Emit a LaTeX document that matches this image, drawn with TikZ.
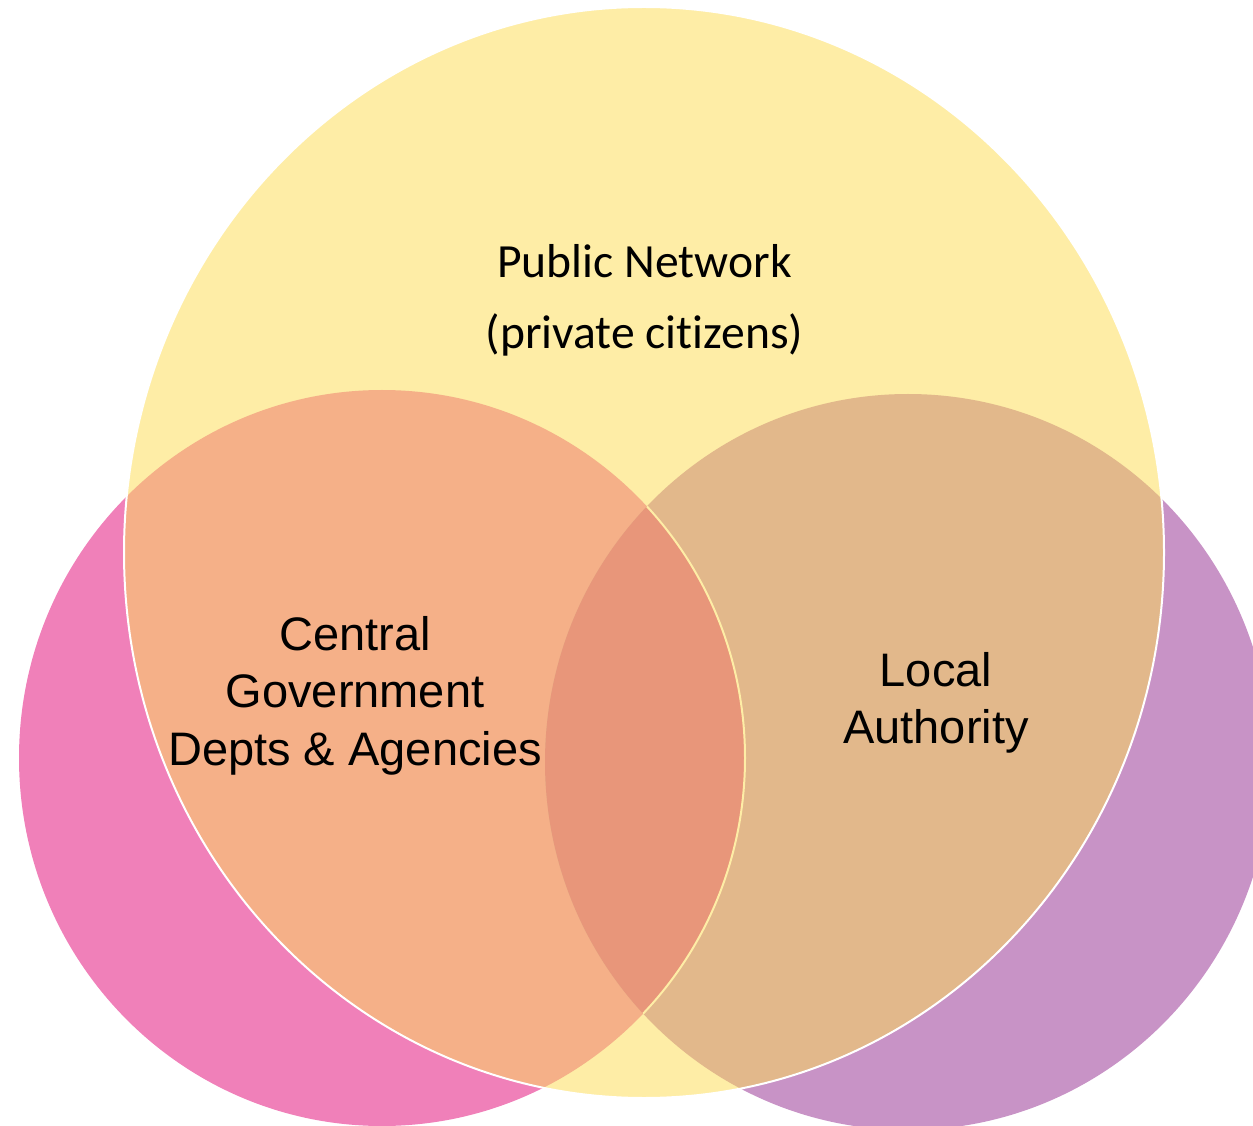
\documentclass[tikz,border=0pt]{standalone}
\usepackage{fontspec}
\setmainfont{Liberation Sans}
\newfontfamily\calibrifont[Ligatures=NoCommon]{Carlito}
\usepackage{tikz}

\definecolor{pinkc}{HTML}{F080B9}
\definecolor{purplec}{HTML}{C893C6}
\definecolor{yellowc}{HTML}{FEEDA6}
\definecolor{orangec}{HTML}{F5B088}
\definecolor{tanc}{HTML}{E2B88B}
\definecolor{darkc}{HTML}{E8967A}

\tikzset{
  label text/.style={inner sep=0pt, anchor=north, align=center, text=black,
    font=\fontsize{35.25}{43.1}\selectfont},
  public text/.style={inner sep=0pt, anchor=north, align=center, text=black,
    font=\calibrifont\fontsize{35.7}{53.5}\selectfont}
}

\begin{document}
\begin{tikzpicture}[x=0.75pt,y=0.75pt,yscale=-1,xscale=1]
\useasboundingbox (0,0) rectangle (1253,1126);
\clip (0,0) rectangle (1253,1126);

%Shape: Circle [left, pink]
\fill[pinkc] (382,758) ellipse [x radius=363, y radius=368];
%Shape: Circle [right, purple]
\fill[purplec] (908,762) ellipse [x radius=363, y radius=368];
%Shape: Ellipse [big, yellow]
\fill[yellowc] (644,552.5) ellipse [x radius=520, y radius=545.5];

%overlaps inside the yellow one
\begin{scope}
  \clip (644,552.5) ellipse [x radius=520, y radius=545.5];
  \fill[orangec] (382,758) ellipse [x radius=363, y radius=368];
  \fill[tanc] (908,762) ellipse [x radius=363, y radius=368];
  \clip (908,762) ellipse [x radius=363, y radius=368];
  \fill[darkc] (382,758) ellipse [x radius=363, y radius=368];
  %thin edge of the left circle
  \draw[yellowc, line width=1.5pt] (382,758) ellipse [x radius=363, y radius=368];
\end{scope}

%white rim of the yellow one
\draw[white, line width=1.5pt] (644,552.5) ellipse [x radius=520, y radius=545.5];

% Text Node
\node[public text] (public) at (644.5,244) {Public Network\\(private citizens)};
% Text Node
\node[label text] (central) at (355,616) {Central\\Government\\Depts \& Agencies};
% Text Node
\node[label text] (local) at (936,652) {Local\\Authority};

\end{tikzpicture}
\end{document}
